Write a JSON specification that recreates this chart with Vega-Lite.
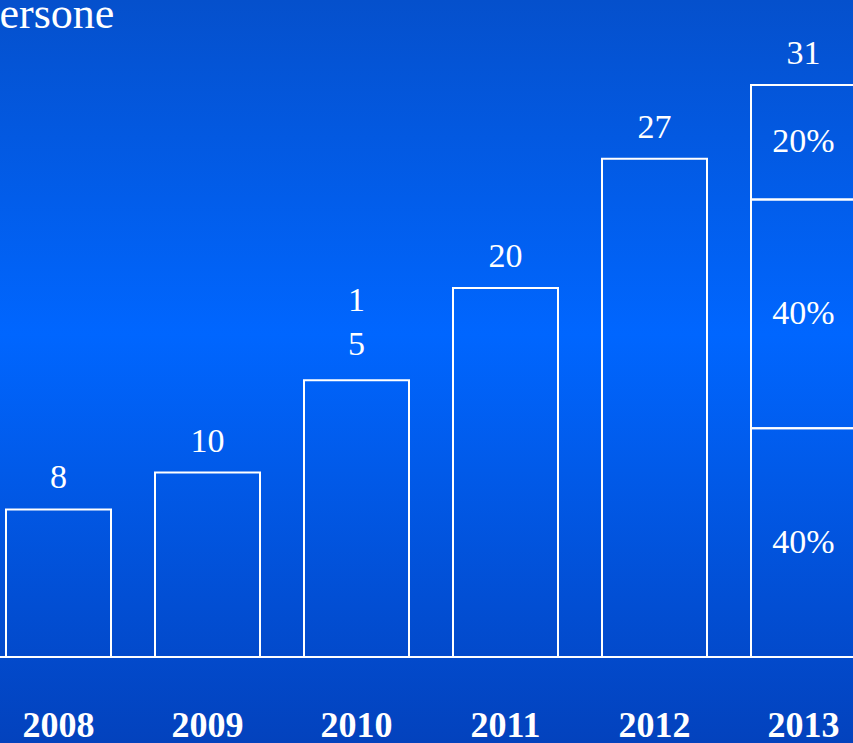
{
  "$schema": "https://vega.github.io/schema/vega-lite/v6.json",
  "width": 862,
  "height": 743,
  "autosize": {"type": "none"},
  "padding": 0,
  "background": "#0058e6",
  "title": {
    "text": "Persone",
    "anchor": "start",
    "frame": "group",
    "offset": -72,
    "dx": -25,
    "baseline": "alphabetic",
    "font": "Liberation Serif",
    "fontSize": 44,
    "fontWeight": "normal",
    "color": "white",
    "zindex": 1
  },
  "config": {
    "view": {
      "stroke": null,
      "fill": {
        "gradient": "linear",
        "x1": 0, "y1": 0, "x2": 0, "y2": 1,
        "stops": [
          {"offset": 0, "color": "#0550cc"},
          {"offset": 0.45, "color": "#0066ff"},
          {"offset": 1, "color": "#0342bd"}
        ]
      }
    }
  },
  "datasets": {
    "bars": [
      {"year": "2008", "part": 1, "share": "", "value": 8},
      {"year": "2009", "part": 1, "share": "", "value": 10},
      {"year": "2010", "part": 1, "share": "", "value": 15},
      {"year": "2011", "part": 1, "share": "", "value": 20},
      {"year": "2012", "part": 1, "share": "", "value": 27},
      {"year": "2013", "part": 1, "share": "40%", "value": 12.4},
      {"year": "2013", "part": 2, "share": "40%", "value": 12.4},
      {"year": "2013", "part": 3, "share": "20%", "value": 6.2}
    ],
    "totals": [
      {"year": "2008", "total": 8, "label": "8"},
      {"year": "2009", "total": 10, "label": "10"},
      {"year": "2010", "total": 15, "label": "1\n5"},
      {"year": "2011", "total": 20, "label": "20"},
      {"year": "2012", "total": 27, "label": "27"},
      {"year": "2013", "total": 31, "label": "31"}
    ]
  },
  "layer": [
    {
      "data": {"name": "totals"},
      "mark": {"type": "rule", "color": "white", "strokeWidth": 1.5, "opacity": 0.8},
      "encoding": {
        "y": {"datum": 0, "type": "quantitative", "scale": {"domain": [-4.66, 35.61], "nice": false, "zero": false}, "axis": null}
      }
    },
    {
      "data": {"name": "bars"},
      "mark": {"type": "bar", "fill": "transparent", "stroke": "white", "strokeWidth": 2},
      "encoding": {
        "x": {
          "field": "year", "type": "nominal",
          "scale": {"paddingInner": 0.2953, "paddingOuter": 0.0403},
          "axis": {
            "title": null, "orient": "bottom", "offset": -7, "domain": false, "ticks": false,
            "labelPadding": 0, "labelBaseline": "alphabetic", "labelAngle": 0,
            "labelFont": "Liberation Serif", "labelFontSize": 36, "labelFontWeight": "bold",
            "labelColor": "white", "grid": false
          }
        },
        "y": {"field": "value", "type": "quantitative", "stack": "zero", "scale": {"domain": [-4.66, 35.61], "nice": false, "zero": false}, "axis": null},
        "order": {"field": "part", "type": "quantitative"}
      }
    },
    {
      "data": {"name": "bars"},
      "transform": [
        {"filter": "datum.share != ''"},
        {"stack": "value", "groupby": ["year"], "sort": [{"field": "part"}], "as": ["v0", "v1"]},
        {"calculate": "(datum.v0 + datum.v1) / 2", "as": "mid"}
      ],
      "mark": {"type": "text", "font": "Liberation Serif", "fontSize": 34, "color": "white", "baseline": "middle"},
      "encoding": {
        "x": {"field": "year", "type": "nominal", "scale": {"paddingInner": 0.2953, "paddingOuter": 0.0403}},
        "y": {"field": "mid", "type": "quantitative", "scale": {"domain": [-4.66, 35.61], "nice": false, "zero": false}, "axis": null},
        "text": {"field": "share"}
      }
    },
    {
      "data": {"name": "totals"},
      "transform": [{"filter": "indexof(datum.label, '\\n') < 0"}],
      "mark": {"type": "text", "font": "Liberation Serif", "fontSize": 34, "color": "white", "baseline": "bottom", "dy": -14},
      "encoding": {
        "x": {"field": "year", "type": "nominal", "scale": {"paddingInner": 0.2953, "paddingOuter": 0.0403}},
        "y": {"field": "total", "type": "quantitative", "scale": {"domain": [-4.66, 35.61], "nice": false, "zero": false}, "axis": null},
        "text": {"field": "label"}
      }
    },
    {
      "data": {"name": "totals"},
      "transform": [{"filter": "indexof(datum.label, '\\n') >= 0"}],
      "mark": {"type": "text", "font": "Liberation Serif", "fontSize": 34, "color": "white", "baseline": "bottom", "dy": -62, "lineBreak": "\n", "lineHeight": 44},
      "encoding": {
        "x": {"field": "year", "type": "nominal", "scale": {"paddingInner": 0.2953, "paddingOuter": 0.0403}},
        "y": {"field": "total", "type": "quantitative", "scale": {"domain": [-4.66, 35.61], "nice": false, "zero": false}, "axis": null},
        "text": {"field": "label"}
      }
    }
  ]
}
